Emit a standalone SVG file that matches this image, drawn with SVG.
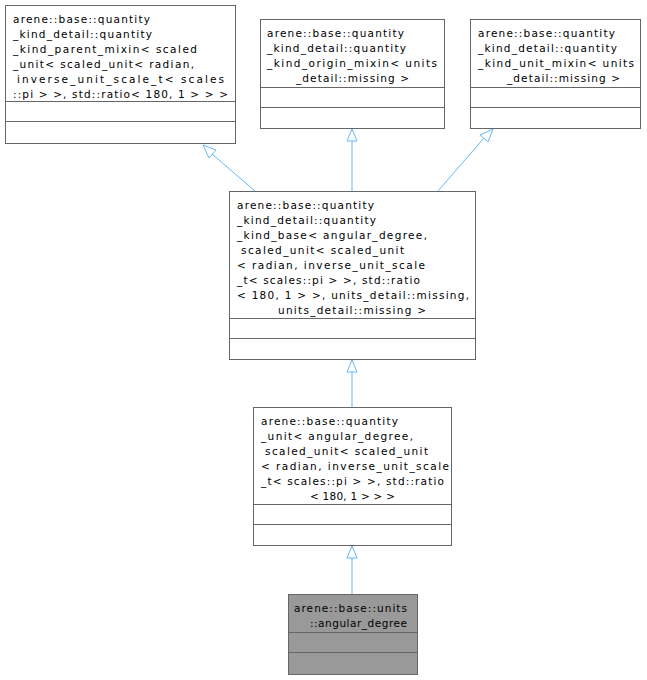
<svg xmlns="http://www.w3.org/2000/svg" width="647" height="680" viewBox="0 0 647 680">
<style>
.b{fill:#fff;stroke:#666;stroke-width:1}
.g{fill:#999;stroke:#666;stroke-width:1}
.s{stroke:#666;stroke-width:1}
text{font-family:"DejaVu Sans",sans-serif;font-size:10.5px;fill:#000}
.e{stroke:#63b8ff;stroke-width:1;fill:none}
.h{fill:#fff;stroke:#63b8ff;stroke-width:1}
</style>
<rect width="647" height="680" fill="#fff"/>
<g id="connectors">
<path class="e" d="M255,191L212,154"/><polygon class="h" points="203,145 216,150 209,158"/>
<path class="e" d="M352,191V141"/><polygon class="h" points="352,129 347,141 357,141"/>
<path class="e" d="M438,191L484,138"/><polygon class="h" points="493,129 488,142 480,135"/>
<path class="e" d="M352,407V372"/><polygon class="h" points="352,360 347,372 357,372"/>
<path class="e" d="M352,594V558"/><polygon class="h" points="352,546 347,558 357,558"/>
</g>
<g id="n1"><rect class="b" x="5.5" y="5.5" width="230" height="138"/>
<text x="13" y="23" textLength="137">arene::base::quantity</text>
<text x="13" y="38" textLength="139">_kind_detail::quantity</text>
<text x="13" y="53" textLength="184">_kind_parent_mixin&lt; scaled</text>
<text x="13" y="68" textLength="181">_unit&lt; scaled_unit&lt; radian,</text>
<text x="17" y="83" textLength="207">inverse_unit_scale_t&lt; scales</text>
<text x="13" y="98" textLength="215">::pi &gt; &gt;, std::ratio&lt; 180, 1 &gt; &gt; &gt;</text>
<line class="s" x1="5.5" y1="101.5" x2="235.5" y2="101.5"/><line class="s" x1="5.5" y1="121.5" x2="235.5" y2="121.5"/></g>
<g id="n2"><rect class="b" x="260.5" y="19.5" width="184" height="109"/>
<text x="267" y="37" textLength="137">arene::base::quantity</text>
<text x="267" y="52" textLength="139">_kind_detail::quantity</text>
<text x="267" y="67" textLength="170">_kind_origin_mixin&lt; units</text>
<text x="296" y="82" textLength="113">_detail::missing &gt;</text>
<line class="s" x1="260.5" y1="87.5" x2="444.5" y2="87.5"/><line class="s" x1="260.5" y1="107.5" x2="444.5" y2="107.5"/></g>
<g id="n3"><rect class="b" x="470.5" y="19.5" width="170" height="109"/>
<text x="478" y="37" textLength="137">arene::base::quantity</text>
<text x="478" y="52" textLength="139">_kind_detail::quantity</text>
<text x="478" y="67" textLength="156">_kind_unit_mixin&lt; units</text>
<text x="507" y="82" textLength="113">_detail::missing &gt;</text>
<line class="s" x1="470.5" y1="87.5" x2="640.5" y2="87.5"/><line class="s" x1="470.5" y1="107.5" x2="640.5" y2="107.5"/></g>
<g id="n4"><rect class="b" x="229.5" y="191.5" width="246" height="168"/>
<text x="237" y="209" textLength="137">arene::base::quantity</text>
<text x="237" y="224" textLength="139">_kind_detail::quantity</text>
<text x="237" y="239" textLength="190">_kind_base&lt; angular_degree,</text>
<text x="241" y="254" textLength="163">scaled_unit&lt; scaled_unit</text>
<text x="237" y="269" textLength="188">&lt; radian, inverse_unit_scale</text>
<text x="237" y="284" textLength="183">_t&lt; scales::pi &gt; &gt;, std::ratio</text>
<text x="237" y="299" textLength="232">&lt; 180, 1 &gt; &gt;, units_detail::missing,</text>
<text x="278" y="314" textLength="148">units_detail::missing &gt;</text>
<line class="s" x1="229.5" y1="318.5" x2="475.5" y2="318.5"/><line class="s" x1="229.5" y1="338.5" x2="475.5" y2="338.5"/></g>
<g id="n5"><rect class="b" x="253.5" y="407.5" width="198" height="138"/>
<text x="261" y="425" textLength="137">arene::base::quantity</text>
<text x="261" y="440" textLength="152">_unit&lt; angular_degree,</text>
<text x="265" y="455" textLength="163">scaled_unit&lt; scaled_unit</text>
<text x="261" y="470" textLength="188">&lt; radian, inverse_unit_scale</text>
<text x="261" y="485" textLength="183">_t&lt; scales::pi &gt; &gt;, std::ratio</text>
<text x="310" y="500" textLength="85">&lt; 180, 1 &gt; &gt; &gt;</text>
<line class="s" x1="253.5" y1="504.5" x2="451.5" y2="504.5"/><line class="s" x1="253.5" y1="524.5" x2="451.5" y2="524.5"/></g>
<g id="n6"><rect class="g" x="288.5" y="594.5" width="129" height="80"/>
<text x="294" y="612" textLength="113">arene::base::units</text>
<text x="310" y="627" textLength="97">::angular_degree</text>
<line class="s" x1="288.5" y1="632.5" x2="417.5" y2="632.5"/><line class="s" x1="288.5" y1="652.5" x2="417.5" y2="652.5"/></g>
</svg>
